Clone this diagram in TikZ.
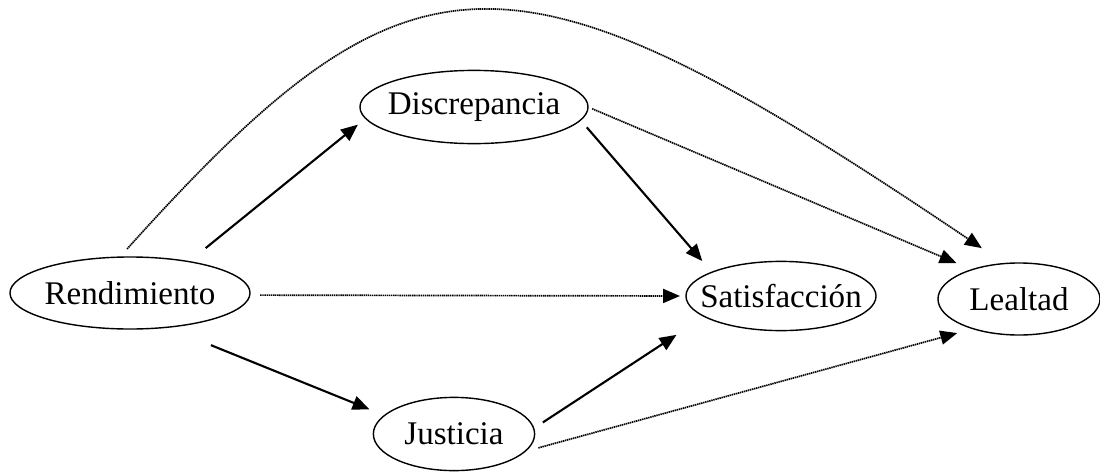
\documentclass[tikz,border=0pt]{standalone}
\usepackage{fontspec}
\setmainfont{Liberation Serif}
\usepackage{tikz}
\usetikzlibrary{shapes.geometric,arrows.meta,positioning}

\begin{document}
\begin{tikzpicture}[
    x=0.025cm, y=-0.025cm,
    var/.style={ellipse, draw, line width=1pt, inner sep=0pt, outer sep=0pt,
      font=\fontsize{23.5}{28}\selectfont},
    arrow/.style={-{Triangle[length=12pt,width=10pt]}, line width=1.5pt},
    dotarrow/.style={-{Triangle[length=12pt,width=10pt]}, line width=1.2pt,
      dash pattern=on 1pt off 0.5pt}
]
\useasboundingbox (0,0) rectangle (1100,474);

\node[var, minimum width=6cm, minimum height=1.8cm] (rend) at (130,293) {\makebox[0pt]{Rendimiento}};
\node[var, minimum width=5.7cm, minimum height=1.83cm] (disc) at (474,107) {\makebox[0pt]{Discrepancia}};
\node[var, minimum width=4.75cm, minimum height=1.73cm] (sat) at (781,296) {\makebox[0pt]{Satisfacción}};
\node[var, minimum width=4.05cm, minimum height=1.8cm] (leal) at (1019,299) {\makebox[0pt]{Lealtad}};
\node[var, minimum width=4.03cm, minimum height=1.83cm] (just) at (454,434) {\makebox[0pt]{Justicia}};

\draw[arrow, shorten <=15.3pt, shorten >=7.1pt] (rend.28) -- (disc.186);
\draw[arrow, shorten <=33.9pt, shorten >=11.6pt] (rend.-43) -- (just.165);
\draw[arrow, shorten <=6.8pt, shorten >=10.5pt] (disc.-7) -- (sat.161);
\draw[arrow, shorten <=7.8pt, shorten >=23.8pt] (just.4) -- (sat.195);

\draw[dotarrow, shorten <=7.4pt, shorten >=4.3pt] (rend.-1) -- (sat.180);
\draw[dotarrow, shorten <=3.2pt, shorten >=12pt] (disc.0) -- (leal.148);
\draw[dotarrow, shorten <=10.1pt, shorten >=11.8pt] (just.-14) -- (leal.213);
\draw[dotarrow, shorten <=7.8pt, shorten >=19.6pt] (rend.106)
    to[out=48, in=146, out distance=10.97cm, in distance=14.9cm] (leal.112);
\end{tikzpicture}
\end{document}
